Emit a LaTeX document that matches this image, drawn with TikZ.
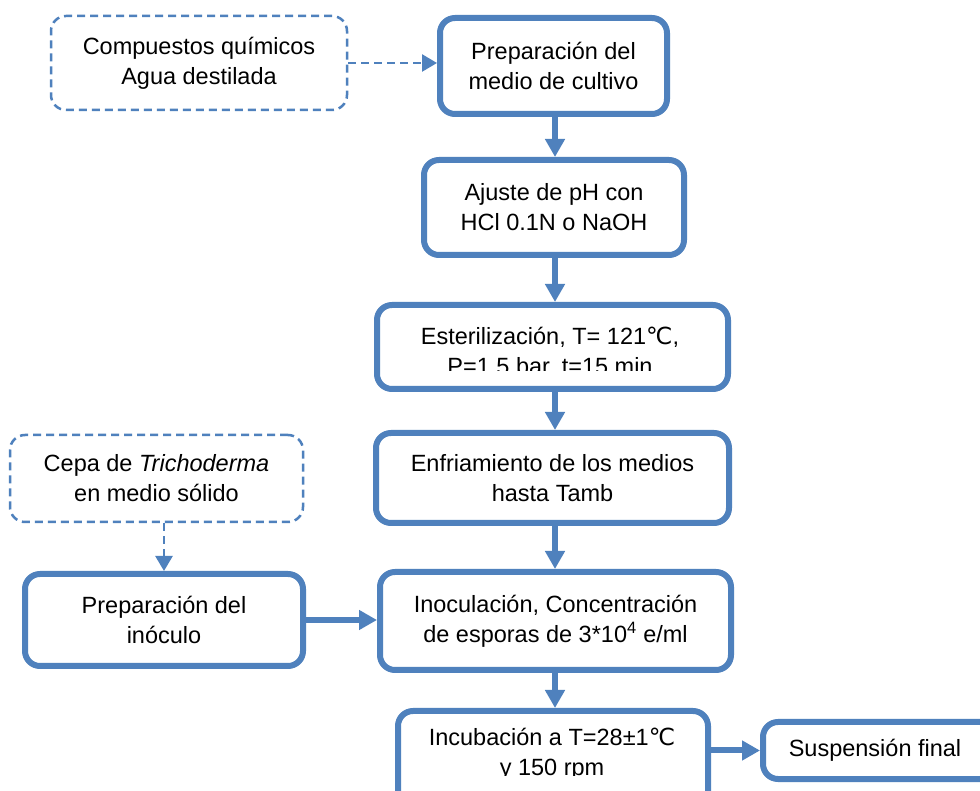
\documentclass[tikz,border=0pt]{standalone}
\usepackage{fontspec}
\setmainfont{Liberation Sans}
\newfontfamily\djv{DejaVu Sans}
\usetikzlibrary{arrows.meta}
\definecolor{obl}{RGB}{79,129,189}
\newcommand{\degC}{{\djv ℃}}
\begin{document}
\begin{tikzpicture}[x=1pt,y=1pt,
 txt/.style={font=\fontsize{23.5}{30}\selectfont, align=center, text=black},
 solidbox/.style={draw=obl, line width=6pt, rounded corners=15pt, fill=white, inner sep=0pt, txt},
 dashbox/.style={draw=obl, line width=2.5pt, dash pattern=on 8pt off 5pt, rounded corners=15pt, fill=white, inner sep=0pt, txt},
 flow/.style={draw=obl, line width=6pt, -{Triangle[length=18pt,width=19pt]}},
 dflow/.style={draw=obl, line width=2.5pt, dash pattern=on 8pt off 5pt, -{Triangle[length=15pt,width=17pt]}}]
\clip (0,0) rectangle (980,790);
\fill[white] (0,0) rectangle (980,790);
\coordinate (ax) at (555,0);

\node[dashbox, minimum width=296pt, minimum height=94pt] (b1) at (199,727) {Compuestos químicos\\Agua destilada};
\node[solidbox, minimum width=227pt, minimum height=96pt] (b2) at (553.5,724) {Preparación del\\medio de cultivo};
\node[solidbox, minimum width=260pt, minimum height=95pt] (b3) at (554,582.5) {Ajuste de pH con\\HCl 0.1N o NaOH};
\node[solidbox, minimum width=351pt, minimum height=84pt] (b4) at (552.5,443) {};
\begin{scope}
\clip (377,419) rectangle (728,480);
\node[txt] (t4) at (550,438) {Esterilización, T= 121\degC,\\P=1.5 bar, t=15 min};
\end{scope}
\node[solidbox, minimum width=353pt, minimum height=90pt] (b5) at (552.5,312) {Enfriamiento de los medios\\hasta Tamb};
\node[solidbox, minimum width=351pt, minimum height=98pt] (b6) at (555.5,169) {Inoculación, Concentración\\de esporas de 3*10\textsuperscript{4} e/ml};
\node[solidbox, minimum width=310pt, minimum height=99pt] (b7) at (553,29.5) {};
\begin{scope}
\clip (398,15) rectangle (708,80);
\node[txt] (t7) at (552,36) {Incubación a T=28±1\degC\\y 150 rpm};
\end{scope}
\node[solidbox, minimum width=232pt, minimum height=57pt] (b8) at (879,39.5) {\hspace*{-4pt}Suspensión final\hspace*{4pt}};
\node[dashbox, minimum width=293pt, minimum height=87pt] (b9) at (156.5,311.5) {Cepa de \textit{Trichoderma}\\en medio sólido};
\node[solidbox, minimum width=278pt, minimum height=92pt] (b10) at (164,170) {Preparación del\\inóculo};

\draw[dflow] (b1.east) -- (b1.east -| b2.west);
\draw[flow] (b2.south -| ax) -- (b3.north -| ax);
\draw[flow] (b3.south -| ax) -- (b4.north -| ax);
\draw[flow] (b4.south -| ax) -- (b5.north -| ax);
\draw[flow] (b5.south -| ax) -- (b6.north -| ax);
\draw[flow] (b6.south -| ax) -- (b7.north -| ax);
\draw[dflow] (b10.north |- b9.south) -- (b10.north);
\draw[flow] (b10.east) -- (b6.west |- b10.east);
\draw[flow] (b7.east |- b8.west) -- (b8.west);
\end{tikzpicture}
\end{document}
